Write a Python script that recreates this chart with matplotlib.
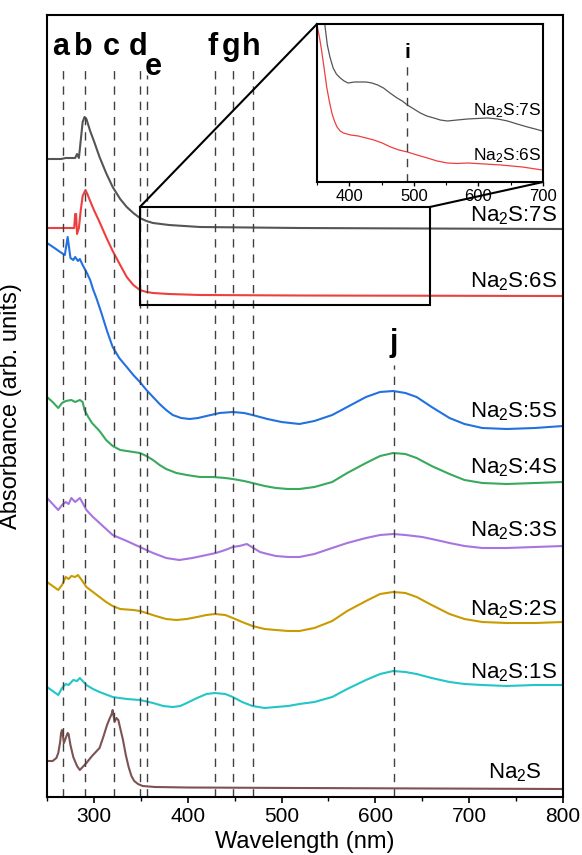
import matplotlib
matplotlib.use("Agg")
import matplotlib.pyplot as plt
from matplotlib.patches import Rectangle, ConnectionPatch
from matplotlib.ticker import MultipleLocator

plt.rcParams["font.family"] = "Liberation Sans"
plt.rcParams["mathtext.fontset"] = "custom"
plt.rcParams["mathtext.rm"] = "Liberation Sans"
plt.rcParams["mathtext.it"] = "Liberation Sans:italic"
plt.rcParams["mathtext.bf"] = "Liberation Sans:bold"

# spectra (wavelength in nm, absorbance in arb. units, offset for stacking)
wl_7s = [250, 265, 270, 275, 280, 282, 284, 286, 288, 290, 292, 296, 300, 306, 313, 320, 328, 335, 342, 349, 356,
         363, 380, 413, 519, 650, 800]
ab_7s = [6.38, 6.38, 6.39, 6.39, 6.39, 6.43, 6.39, 6.57, 6.75, 6.80, 6.78, 6.66, 6.56, 6.40, 6.24, 6.10, 5.98, 5.90,
         5.84, 5.79, 5.76, 5.74, 5.72, 5.70, 5.69, 5.685, 5.68]

wl_6s = [250, 270, 279, 280, 281, 282, 284, 286, 288, 291, 293, 296, 300, 306, 313, 320, 328, 335, 342, 349, 356,
         363, 380, 413, 520, 800]
ab_6s = [5.69, 5.69, 5.69, 5.83, 5.83, 5.63, 5.69, 5.87, 6.01, 6.07, 6.03, 5.96, 5.87, 5.75, 5.60, 5.46, 5.32, 5.20,
         5.12, 5.07, 5.05, 5.04, 5.03, 5.02, 5.015, 5.01]

wl_5s = [250, 258, 264, 269, 272, 275, 278, 280, 283, 285, 288, 292, 296, 299, 303, 308, 314, 320, 327, 335, 342,
         349, 356, 363, 370, 377, 384, 393, 402, 411, 420, 434, 448, 460, 469, 485, 500, 519, 535, 554, 570, 590,
         605, 619, 632, 644, 660, 679, 695, 714, 740, 770, 800]
ab_5s = [5.54, 5.49, 5.45, 5.42, 5.60, 5.39, 5.37, 5.40, 5.36, 5.38, 5.32, 5.25, 5.17, 5.08, 4.98, 4.84, 4.66, 4.50,
         4.39, 4.30, 4.22, 4.15, 4.07, 4.00, 3.93, 3.87, 3.82, 3.79, 3.78, 3.79, 3.81, 3.84, 3.85, 3.84, 3.82, 3.78,
         3.75, 3.73, 3.76, 3.82, 3.90, 4.00, 4.05, 4.06, 4.04, 4.00, 3.90, 3.79, 3.73, 3.69, 3.68, 3.69, 3.71]

wl_4s = [250, 256, 262, 266, 270, 276, 280, 285, 288, 290, 294, 298, 306, 313, 320, 328, 335, 342, 349, 356, 363,
         370, 377, 388, 399, 413, 427, 440, 448, 460, 469, 482, 494, 507, 519, 535, 554, 570, 590, 605, 619, 632,
         644, 660, 679, 695, 714, 740, 770, 800]
ab_4s = [4.00, 3.95, 3.89, 3.94, 3.96, 3.97, 3.95, 3.97, 3.95, 3.87, 3.80, 3.74, 3.66, 3.57, 3.51, 3.47, 3.46, 3.45,
         3.44, 3.41, 3.37, 3.32, 3.28, 3.24, 3.22, 3.20, 3.20, 3.19, 3.18, 3.16, 3.14, 3.11, 3.09, 3.08, 3.08, 3.10,
         3.15, 3.24, 3.34, 3.41, 3.44, 3.43, 3.39, 3.31, 3.23, 3.17, 3.14, 3.13, 3.14, 3.15]

wl_3s = [250, 256, 262, 266, 270, 273, 276, 280, 285, 288, 292, 299, 306, 313, 320, 335, 349, 363, 377, 391, 405,
         420, 430, 440, 448, 455, 463, 470, 477, 485, 494, 507, 519, 535, 554, 570, 590, 605, 619, 632, 650, 665,
         679, 695, 714, 740, 770, 800]
ab_3s = [2.99, 2.93, 2.87, 2.92, 2.95, 2.93, 2.99, 2.95, 2.99, 2.94, 2.87, 2.80, 2.74, 2.68, 2.62, 2.56, 2.50, 2.44,
         2.39, 2.37, 2.39, 2.42, 2.44, 2.47, 2.50, 2.51, 2.53, 2.49, 2.45, 2.43, 2.41, 2.40, 2.40, 2.43, 2.49, 2.54,
         2.59, 2.62, 2.63, 2.62, 2.60, 2.57, 2.54, 2.51, 2.49, 2.49, 2.50, 2.51]

wl_2s = [250, 256, 262, 266, 270, 273, 276, 280, 283, 287, 292, 299, 306, 313, 320, 328, 342, 349, 356, 366, 377,
         388, 399, 410, 420, 429, 440, 448, 458, 469, 482, 494, 507, 519, 535, 554, 570, 590, 605, 619, 632, 644,
         660, 679, 695, 714, 740, 770, 800]
ab_2s = [2.15, 2.11, 2.07, 2.12, 2.20, 2.18, 2.21, 2.20, 2.22, 2.17, 2.10, 2.05, 2.00, 1.95, 1.91, 1.88, 1.87, 1.86,
         1.84, 1.81, 1.78, 1.77, 1.78, 1.80, 1.82, 1.83, 1.82, 1.79, 1.75, 1.71, 1.68, 1.67, 1.66, 1.66, 1.69, 1.76,
         1.86, 1.96, 2.03, 2.05, 2.04, 2.00, 1.92, 1.83, 1.78, 1.75, 1.74, 1.74, 1.75]

wl_1s = [250, 256, 262, 266, 270, 273, 278, 282, 285, 289, 292, 299, 306, 320, 335, 349, 363, 374, 384, 392, 399,
         410, 420, 429, 440, 448, 458, 469, 482, 494, 507, 519, 535, 554, 570, 590, 605, 619, 632, 644, 660, 679,
         695, 714, 740, 770, 800]
ab_1s = [1.10, 1.06, 1.02, 1.09, 1.13, 1.12, 1.17, 1.16, 1.19, 1.15, 1.12, 1.08, 1.05, 1.00, 0.98, 0.97, 0.94, 0.91,
         0.90, 0.91, 0.94, 0.99, 1.03, 1.04, 1.03, 1.00, 0.95, 0.91, 0.89, 0.90, 0.91, 0.93, 0.95, 1.00, 1.08, 1.17,
         1.23, 1.26, 1.25, 1.23, 1.19, 1.15, 1.13, 1.12, 1.11, 1.12, 1.12]

wl_0s = [250, 256, 260, 262, 264, 265, 266, 267, 268, 270, 272, 273, 275, 278, 282, 285, 288, 292, 298, 306, 310,
         314, 317, 319, 320, 321, 322, 324, 326, 328, 331, 334, 337, 340, 343, 347, 352, 365, 400, 519, 800]
ab_0s = [0.36, 0.36, 0.39, 0.44, 0.55, 0.64, 0.67, 0.61, 0.54, 0.59, 0.64, 0.63, 0.52, 0.40, 0.31, 0.27, 0.30, 0.34,
         0.41, 0.49, 0.60, 0.72, 0.79, 0.83, 0.87, 0.81, 0.75, 0.79, 0.77, 0.69, 0.57, 0.42, 0.30, 0.21, 0.16, 0.13,
         0.11, 0.10, 0.095, 0.09, 0.08]

# inset (350-700 nm, own scale)
wl_in_7s = [355, 362, 366, 370, 375, 380, 386, 392, 398, 408, 417, 426, 435, 444, 453, 463, 474, 482, 490, 500,
            510, 520, 531, 541, 552, 567, 583, 598, 614, 630, 645, 660, 676, 688, 699]
ab_in_7s = [1.82, 1.58, 1.37, 1.25, 1.14, 1.08, 1.04, 1.01, 0.99, 1.00, 1.00, 1.00, 0.99, 0.97, 0.94, 0.89, 0.84,
            0.81, 0.77, 0.73, 0.69, 0.66, 0.64, 0.62, 0.61, 0.62, 0.63, 0.635, 0.64, 0.63, 0.61, 0.58, 0.55, 0.53, 0.51]
wl_in_6s = [350, 354, 357, 361, 365, 369, 373, 377, 381, 386, 391, 402, 414, 426, 438, 451, 464, 477, 490, 505,
            521, 536, 552, 567, 583, 610, 635, 668, 699]
ab_in_6s = [1.57, 1.44, 1.32, 1.14, 0.95, 0.81, 0.69, 0.61, 0.55, 0.51, 0.49, 0.47, 0.46, 0.44, 0.42, 0.39, 0.35,
            0.32, 0.30, 0.27, 0.24, 0.21, 0.19, 0.185, 0.19, 0.18, 0.17, 0.15, 0.12]

series = [
    (wl_7s, ab_7s, "#555555", "Na$_\\mathregular{2}$S:7S", 5.76),
    (wl_6s, ab_6s, "#ef3e3e", "Na$_\\mathregular{2}$S:6S", 5.10),
    (wl_5s, ab_5s, "#2271e0", "Na$_\\mathregular{2}$S:5S", 3.80),
    (wl_4s, ab_4s, "#38a95d", "Na$_\\mathregular{2}$S:4S", 3.24),
    (wl_3s, ab_3s, "#a874e0", "Na$_\\mathregular{2}$S:3S", 2.61),
    (wl_2s, ab_2s, "#c99b00", "Na$_\\mathregular{2}$S:2S", 1.82),
    (wl_1s, ab_1s, "#22c6c9", "Na$_\\mathregular{2}$S:1S", 1.19),
    (wl_0s, ab_0s, "#7d5252", "Na$_\\mathregular{2}$S", 0.19),
]

# marker lines
peak_names = ["a", "b", "c", "d", "e", "f", "g", "h"]
peak_wl = [266.7, 290.4, 321, 349, 356.7, 428.7, 448, 469.5]

W, H = 582, 855
fig = plt.figure(figsize=(W / 100, H / 100), dpi=100)
ax = fig.add_axes([47 / W, (H - 797) / H, (563 - 47) / W, (797 - 15) / H])

for wl, ab, col, lab, ly in series:
    ax.plot(wl, ab, color=col, lw=1.5, solid_joinstyle="round")
    xr = 777.7 if ":" not in lab else 793.6
    ax.text(xr, ly, lab, ha="right", va="baseline", fontsize=16)

dash = (0, (6, 5))
for name, w in zip(peak_names, peak_wl):
    top = 7.22 if name == "e" else 7.32
    ax.vlines(w, 0, top, colors="#404040", lw=1.0, linestyles=dash)
    if name == "e":
        ax.text(w + 6.5, 7.22, name, ha="center", va="baseline", fontsize=22, fontweight="bold")
    else:
        ax.text(w - 2, 7.42, name, ha="center", va="baseline", fontsize=22, fontweight="bold")

ax.vlines(619.5, 0, 4.32, colors="#404040", lw=1.0, linestyles=dash)
ax.text(619.5, 4.46, "j", ha="center", va="baseline", fontsize=22, fontweight="bold")

ax.add_patch(Rectangle((349, 4.92), 658 - 349, 0.98, fill=False, lw=1.5, ec="black", zorder=5))

ax.set_xlim(250, 800)
ax.set_ylim(0, 7.82)
ax.set_yticks([])
ax.xaxis.set_major_locator(MultipleLocator(100))
ax.xaxis.set_minor_locator(MultipleLocator(50))
ax.tick_params(axis="x", which="major", direction="out", length=4, width=1.2, labelsize=15, pad=3)
ax.tick_params(axis="x", which="minor", direction="out", length=3, width=1.0)
for s in ax.spines.values():
    s.set_linewidth(1.5)
ax.set_xlabel("Wavelength (nm)", fontsize=17)
ax.xaxis.set_label_coords(0.5, -0.043)
ax.set_ylabel("Absorbance (arb. units)", fontsize=17)
ax.yaxis.set_label_coords(-0.048, 0.5)

# inset
axins = fig.add_axes([317 / W, (H - 182) / H, (543 - 317) / W, (182 - 24) / H])
axins.plot(wl_in_7s, ab_in_7s, color="#555555", lw=0.9, solid_joinstyle="round")
axins.plot(wl_in_6s, ab_in_6s, color="#ef3e3e", lw=0.9, solid_joinstyle="round")
axins.vlines(490, 0, 1.20, colors="#404040", lw=1.0, linestyles=dash)
axins.text(490, 1.24, "i", ha="center", va="baseline", fontsize=15, fontweight="bold")
axins.text(697, 0.67, "Na$_\\mathregular{2}$S:7S", ha="right", va="baseline", fontsize=12.5)
axins.text(697, 0.22, "Na$_\\mathregular{2}$S:6S", ha="right", va="baseline", fontsize=12.5)
axins.set_xlim(350, 700)
axins.set_ylim(0, 1.58)
axins.set_yticks([])
axins.xaxis.set_major_locator(MultipleLocator(100))
axins.xaxis.set_minor_locator(MultipleLocator(50))
axins.tick_params(axis="x", which="major", direction="out", length=3, width=1.0, labelsize=12, pad=2)
axins.tick_params(axis="x", which="minor", direction="out", length=2, width=0.8)
for s in axins.spines.values():
    s.set_linewidth(1.5)

for xa, xb in [((349, 5.90), (0, 1)), ((658, 5.90), (1, 0))]:
    con = ConnectionPatch(xyA=xa, coordsA=ax.transData, xyB=xb, coordsB=axins.transAxes,
                          color="black", lw=1.5)
    fig.add_artist(con)

fig.savefig("out.png", dpi=100)
